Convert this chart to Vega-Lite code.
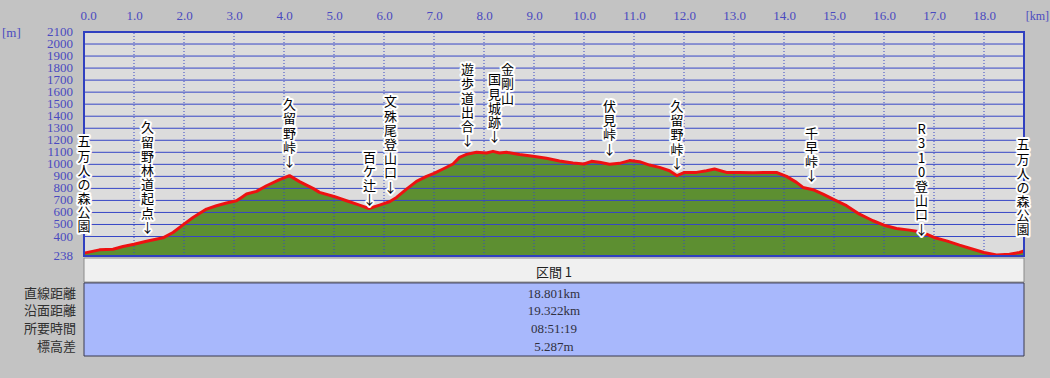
{
  "$schema": "https://vega.github.io/schema/vega-lite/v6.json",
  "width": 940,
  "height": 324,
  "autosize": {"type": "none"},
  "padding": {"left": 84, "top": 32, "right": 26, "bottom": 22},
  "background": "#c3c3c3",
  "config": {
    "view": {"fill": "#dcdcdc", "stroke": null},
    "axisY": {"disable": true},
    "axisX": {"labelOverlap": false, "labelFont": "Liberation Serif", "labelFontSize": 13, "labelColor": "#4a4ac0", "labelPadding": 10, "ticks": false, "tickSize": 0, "domain": false, "grid": false}
  },
  "datasets": {
    "profile": [
      {"km": 0.0, "elev": 262}, {"km": 0.31, "elev": 289}, {"km": 0.58, "elev": 294}, {"km": 0.78, "elev": 317},
      {"km": 1.0, "elev": 336}, {"km": 1.25, "elev": 360}, {"km": 1.58, "elev": 389}, {"km": 1.78, "elev": 433},
      {"km": 2.0, "elev": 503}, {"km": 2.18, "elev": 558}, {"km": 2.45, "elev": 628}, {"km": 2.65, "elev": 656},
      {"km": 2.85, "elev": 678}, {"km": 3.05, "elev": 697}, {"km": 3.15, "elev": 725}, {"km": 3.25, "elev": 753},
      {"km": 3.45, "elev": 775}, {"km": 3.65, "elev": 822}, {"km": 3.91, "elev": 872}, {"km": 4.11, "elev": 906},
      {"km": 4.31, "elev": 856}, {"km": 4.58, "elev": 800}, {"km": 4.71, "elev": 767}, {"km": 5.0, "elev": 733},
      {"km": 5.25, "elev": 697}, {"km": 5.51, "elev": 661}, {"km": 5.7, "elev": 633}, {"km": 5.91, "elev": 661},
      {"km": 6.11, "elev": 689}, {"km": 6.25, "elev": 725}, {"km": 6.45, "elev": 794}, {"km": 6.65, "elev": 858},
      {"km": 6.85, "elev": 900}, {"km": 7.0, "elev": 925}, {"km": 7.18, "elev": 961}, {"km": 7.38, "elev": 1003},
      {"km": 7.51, "elev": 1058}, {"km": 7.65, "elev": 1083}, {"km": 7.85, "elev": 1100}, {"km": 8.05, "elev": 1094},
      {"km": 8.18, "elev": 1108}, {"km": 8.31, "elev": 1094}, {"km": 8.45, "elev": 1100}, {"km": 8.71, "elev": 1081},
      {"km": 8.98, "elev": 1067}, {"km": 9.25, "elev": 1050}, {"km": 9.51, "elev": 1027}, {"km": 9.78, "elev": 1011},
      {"km": 10.0, "elev": 1003}, {"km": 10.15, "elev": 1025}, {"km": 10.31, "elev": 1017}, {"km": 10.51, "elev": 1000},
      {"km": 10.71, "elev": 1008}, {"km": 10.91, "elev": 1031}, {"km": 11.11, "elev": 1022}, {"km": 11.31, "elev": 994},
      {"km": 11.51, "elev": 975}, {"km": 11.71, "elev": 947}, {"km": 11.86, "elev": 906}, {"km": 12.01, "elev": 933},
      {"km": 12.25, "elev": 933}, {"km": 12.45, "elev": 947}, {"km": 12.61, "elev": 961}, {"km": 12.85, "elev": 933},
      {"km": 13.11, "elev": 933}, {"km": 13.38, "elev": 930}, {"km": 13.65, "elev": 933}, {"km": 13.85, "elev": 933},
      {"km": 14.05, "elev": 900}, {"km": 14.25, "elev": 850}, {"km": 14.38, "elev": 808}, {"km": 14.58, "elev": 789},
      {"km": 14.78, "elev": 753}, {"km": 15.0, "elev": 706}, {"km": 15.25, "elev": 656}, {"km": 15.51, "elev": 586},
      {"km": 15.78, "elev": 531}, {"km": 16.0, "elev": 494}, {"km": 16.25, "elev": 467}, {"km": 16.51, "elev": 453},
      {"km": 16.71, "elev": 439}, {"km": 16.85, "elev": 419}, {"km": 17.0, "elev": 392}, {"km": 17.25, "elev": 364},
      {"km": 17.51, "elev": 328}, {"km": 17.78, "elev": 294}, {"km": 18.0, "elev": 267}, {"km": 18.25, "elev": 247},
      {"km": 18.51, "elev": 253}, {"km": 18.71, "elev": 267}, {"km": 18.8, "elev": 281}
    ],
    "points": [
      {"km": 0.0, "top": 1233, "name": "五\n万\n人\nの\n森\n公\n園"},
      {"km": 1.27, "top": 1349, "name": "久\n留\n野\n林\n道\n起\n点\n↓"},
      {"km": 4.11, "top": 1541, "name": "久\n留\n野\n峠\n↓"},
      {"km": 5.71, "top": 1106, "name": "百\nケ\n辻\n↓"},
      {"km": 6.13, "top": 1565, "name": "文\n殊\n尾\n登\n山\n口\n↓"},
      {"km": 7.67, "top": 1832, "name": "遊\n歩\n道\n出\n合\n↓"},
      {"km": 8.21, "top": 1748, "name": "国\n見\n城\n跡\n↓"},
      {"km": 8.47, "top": 1832, "name": "金\n剛\n山"},
      {"km": 10.51, "top": 1526, "name": "伏\n見\n峠\n↓"},
      {"km": 11.86, "top": 1526, "name": "久\n留\n野\n峠\n↓"},
      {"km": 14.55, "top": 1305, "name": "千\n早\n峠\n↓"},
      {"km": 16.75, "top": 1333, "name": "R\n3\n1\n0\n登\n山\n口\n↓"},
      {"km": 18.78, "top": 1208, "name": "五\n万\n人\nの\n森\n公\n園"}
    ],
    "xgrid": [
      {"km": 1}, {"km": 2}, {"km": 3}, {"km": 4}, {"km": 5}, {"km": 6}, {"km": 7}, {"km": 8}, {"km": 9},
      {"km": 10}, {"km": 11}, {"km": 12}, {"km": 13}, {"km": 14}, {"km": 15}, {"km": 16}, {"km": 17}, {"km": 18}
    ],
    "ygrid": [
      {"elev": 400}, {"elev": 500}, {"elev": 600}, {"elev": 700}, {"elev": 800}, {"elev": 900}, {"elev": 1000},
      {"elev": 1100}, {"elev": 1200}, {"elev": 1300}, {"elev": 1400}, {"elev": 1500}, {"elev": 1600},
      {"elev": 1700}, {"elev": 1800}, {"elev": 1900}, {"elev": 2000}
    ],
    "ylabels": [
      {"elev": 238}, {"elev": 400}, {"elev": 500}, {"elev": 600}, {"elev": 700}, {"elev": 800}, {"elev": 900},
      {"elev": 1000}, {"elev": 1100}, {"elev": 1200}, {"elev": 1300}, {"elev": 1400}, {"elev": 1500},
      {"elev": 1600}, {"elev": 1700}, {"elev": 1800}, {"elev": 1900}, {"elev": 2000}, {"elev": 2100}
    ],
    "table": [
      {"row": 1, "label": "直線距離", "value": "18.801km"},
      {"row": 2, "label": "沿面距離", "value": "19.322km"},
      {"row": 3, "label": "所要時間", "value": "08:51:19"},
      {"row": 4, "label": "標高差", "value": "5.287m"}
    ]
  },
  "layer": [
    {
      "layer": [
        {
          "data": {"name": "profile"},
          "mark": {"type": "area", "color": "#5d8f31"},
          "encoding": {
            "x": {
              "field": "km", "type": "quantitative",
              "scale": {"domain": [0, 18.8], "nice": false, "zero": false},
              "axis": {
                "orient": "top", "values": [0, 1, 2, 3, 4, 5, 6, 7, 8, 9, 10, 11, 12, 13, 14, 15, 16, 17, 18],
                "format": ".1f", "labelFlush": true, "labelFlushOffset": 4, "title": null
              }
            },
            "y": {
              "field": "elev", "type": "quantitative",
              "scale": {"domain": [238, 2100], "range": [224, 0], "nice": false, "zero": false},
              "axis": null
            },
            "y2": {"datum": 238}
          }
        },
        {
          "data": {"name": "ygrid"},
          "mark": {"type": "rule", "color": "#3646c6", "strokeWidth": 1},
          "encoding": {
            "y": {"field": "elev", "type": "quantitative"},
            "x": {"datum": 0},
            "x2": {"datum": 18.8}
          }
        },
        {
          "data": {"name": "xgrid"},
          "mark": {"type": "rule", "color": "#3646c6", "strokeWidth": 1, "strokeDash": [1, 2]},
          "encoding": {
            "x": {"field": "km", "type": "quantitative"},
            "y": {"datum": 238},
            "y2": {"datum": 2100}
          }
        },
        {
          "data": {"name": "profile"},
          "mark": {"type": "line", "color": "#ee1111", "strokeWidth": 3, "strokeJoin": "round"},
          "encoding": {
            "x": {"field": "km", "type": "quantitative"},
            "y": {"field": "elev", "type": "quantitative"}
          }
        },
        {
          "data": {"values": [{}]},
          "mark": {"type": "rect", "filled": false, "stroke": "#3040c0", "strokeWidth": 2},
          "encoding": {
            "x": {"datum": 0}, "x2": {"datum": 18.8},
            "y": {"datum": 238}, "y2": {"datum": 2100}
          }
        },
        {
          "data": {"name": "ylabels"},
          "mark": {"type": "text", "align": "right", "baseline": "middle", "dx": -11,
                   "font": "Liberation Serif", "fontSize": 13, "color": "#4a4ac0"},
          "encoding": {
            "x": {"datum": 0},
            "y": {"field": "elev", "type": "quantitative"},
            "text": {"field": "elev", "type": "quantitative", "format": "d"}
          }
        },
        {
          "data": {"name": "points"},
          "mark": {
            "type": "text", "baseline": "top", "align": "center", "lineBreak": "\n", "lineHeight": 14.2,
            "font": "Noto Sans CJK JP", "fontSize": 13, "fill": "white", "stroke": "white", "strokeWidth": 4,
            "strokeJoin": "round"
          },
          "encoding": {
            "x": {"field": "km", "type": "quantitative"},
            "y": {"field": "top", "type": "quantitative"},
            "text": {"field": "name"}
          }
        },
        {
          "data": {"name": "points"},
          "mark": {
            "type": "text", "baseline": "top", "align": "center", "lineBreak": "\n", "lineHeight": 14.2,
            "font": "Noto Sans CJK JP", "fontSize": 13, "color": "#000000"
          },
          "encoding": {
            "x": {"field": "km", "type": "quantitative"},
            "y": {"field": "top", "type": "quantitative"},
            "text": {"field": "name"}
          }
        },
        {
          "data": {"values": [{"u": "[km]"}]},
          "mark": {"type": "text", "align": "right", "baseline": "middle", "dx": 25, "dy": -16,
                   "font": "Liberation Serif", "fontSize": 12, "color": "#4a4ac0"},
          "encoding": {"x": {"datum": 18.8}, "y": {"datum": 2100}, "text": {"field": "u"}}
        },
        {
          "data": {"values": [{"u": "[m]"}]},
          "mark": {"type": "text", "align": "left", "baseline": "middle", "dx": -82, "dy": 1,
                   "font": "Liberation Serif", "fontSize": 13, "color": "#4a4ac0"},
          "encoding": {"x": {"datum": 0}, "y": {"datum": 2100}, "text": {"field": "u"}}
        }
      ]
    },
    {
      "layer": [
        {
          "data": {"values": [{}]},
          "mark": {"type": "rect", "fill": "#f0f0f0", "stroke": "#8a8a8a", "strokeWidth": 1},
          "encoding": {
            "x": {"datum": 0}, "x2": {"datum": 18.8},
            "y": {"datum": -1, "type": "quantitative",
                  "scale": {"domain": [-1, 4.5], "range": [226, 324], "nice": false, "zero": false}, "axis": null},
            "y2": {"datum": 0.35}
          }
        },
        {
          "data": {"values": [{}]},
          "mark": {"type": "rect", "fill": "#a8b8fc", "stroke": "#3a3a50", "strokeWidth": 1},
          "encoding": {
            "x": {"datum": 0}, "x2": {"datum": 18.8},
            "y": {"datum": 0.4, "type": "quantitative"},
            "y2": {"datum": 4.5}
          }
        },
        {
          "data": {"values": [{"h": "区間 1", "row": 0}]},
          "mark": {"type": "text", "align": "center", "baseline": "middle", "dy": -3,
                   "font": "Noto Sans CJK JP", "fontSize": 13, "color": "#202020"},
          "encoding": {
            "x": {"datum": 9.4},
            "y": {"field": "row", "type": "quantitative"},
            "text": {"field": "h"}
          }
        },
        {
          "data": {"name": "table"},
          "mark": {"type": "text", "align": "right", "baseline": "middle", "dx": -8,
                   "font": "Noto Sans CJK JP", "fontSize": 13, "color": "#303030"},
          "encoding": {
            "x": {"datum": 0},
            "y": {"field": "row", "type": "quantitative"},
            "text": {"field": "label"}
          }
        },
        {
          "data": {"name": "table"},
          "mark": {"type": "text", "align": "center", "baseline": "middle",
                   "font": "Liberation Serif", "fontSize": 13, "color": "#303040"},
          "encoding": {
            "x": {"datum": 9.4},
            "y": {"field": "row", "type": "quantitative"},
            "text": {"field": "value"}
          }
        }
      ]
    }
  ],
  "resolve": {"scale": {"y": "independent"}}
}
